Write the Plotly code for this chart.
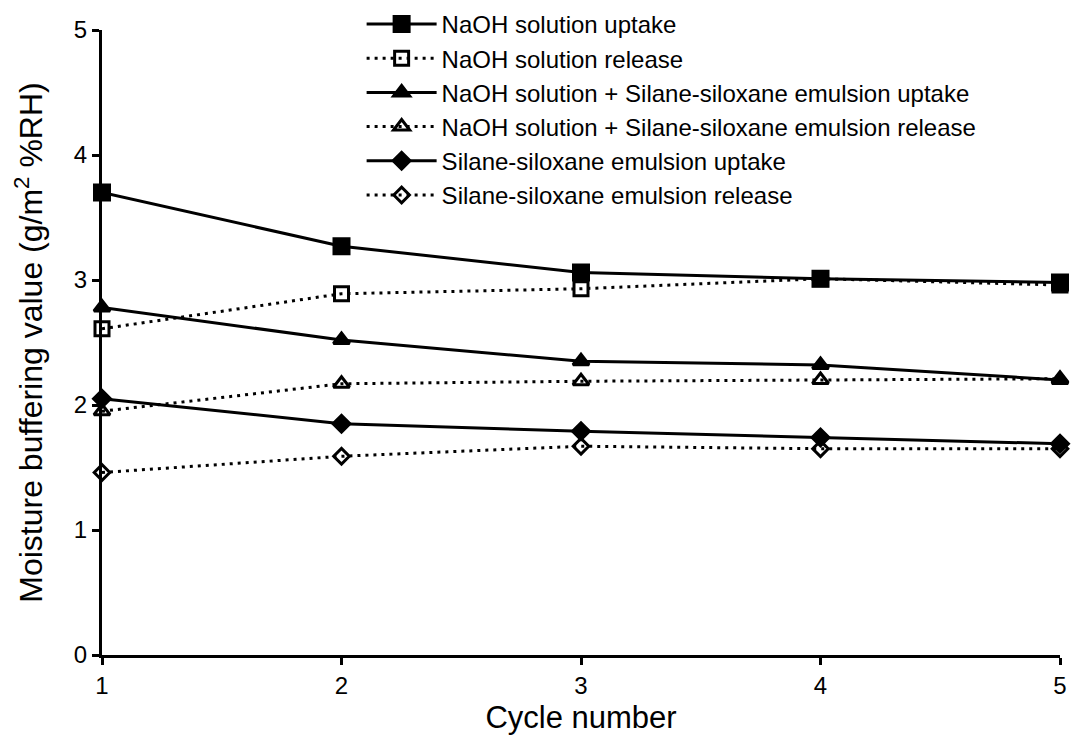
import plotly.graph_objects as go

cycles = [1, 2, 3, 4, 5]
naoh_uptake = [3.70, 3.27, 3.06, 3.01, 2.98]
naoh_release = [2.61, 2.89, 2.93, 3.01, 2.96]
combo_uptake = [2.78, 2.52, 2.35, 2.32, 2.20]
combo_release = [1.95, 2.17, 2.19, 2.20, 2.21]
silane_uptake = [2.05, 1.85, 1.79, 1.74, 1.69]
silane_release = [1.46, 1.59, 1.67, 1.65, 1.65]

names = [
    "NaOH solution uptake",
    "NaOH solution release",
    "NaOH solution + Silane-siloxane emulsion uptake",
    "NaOH solution + Silane-siloxane emulsion release",
    "Silane-siloxane emulsion uptake",
    "Silane-siloxane emulsion release",
]
series = [naoh_uptake, naoh_release, combo_uptake, combo_release, silane_uptake, silane_release]
symbols = ["square", "square-open", "triangle-up", "triangle-up-open", "diamond", "diamond-open"]
sizes = [15, 14, 14, 14, 13, 12]
dashes = ["solid", "3px,5px", "solid", "3px,5px", "solid", "3px,5px"]

fig = go.Figure()
for nm, ys, sym, sz, ds in zip(names, series, symbols, sizes, dashes):
    fig.add_trace(go.Scatter(
        x=cycles, y=ys, name=nm, mode="lines+markers",
        line=dict(color="black", width=3, dash=ds),
        marker=dict(symbol=sym, size=sz, color="black",
                    line=dict(color="black", width=3)),
        cliponaxis=False,
    ))

font_family = "Liberation Sans, Arial, sans-serif"
fig.update_layout(
    width=1074, height=742,
    paper_bgcolor="white", plot_bgcolor="white",
    margin=dict(l=102, r=14, t=30, b=87, autoexpand=False),
    font=dict(family=font_family, color="black", size=24),
    legend=dict(x=0.271, y=1.045, xanchor="left", yanchor="top",
                font=dict(size=24), bgcolor="rgba(0,0,0,0)",
                tracegroupgap=0, itemwidth=70),
    showlegend=True,
)
fig.update_xaxes(
    range=[1, 5], tickvals=cycles, ticks="outside", ticklen=7, tickwidth=3,
    tickcolor="black", showline=True, linecolor="black", linewidth=3,
    showgrid=False, zeroline=False, tickfont=dict(size=24), automargin=False,
    ticklabeloverflow="allow",
    title=dict(text="Cycle number", font=dict(size=31), standoff=9),
)
fig.update_yaxes(
    range=[0, 5], tickvals=[0, 1, 2, 3, 4, 5], ticks="outside", ticklen=7, tickwidth=3,
    tickcolor="black", showline=True, linecolor="black", linewidth=3,
    showgrid=False, zeroline=False, tickfont=dict(size=24), automargin=False,
    title=dict(text="Moisture buffering value (g/m<sup>2</sup> %RH)", font=dict(size=32), standoff=22),
)
fig.write_html("out.html", config={"displayModeBar": False},
               post_script="document.body.style.margin='0';")
